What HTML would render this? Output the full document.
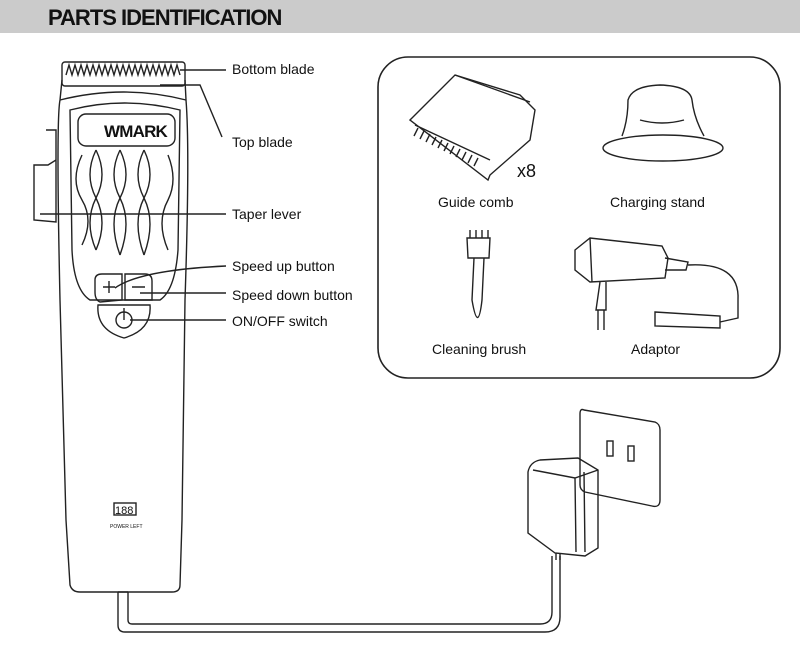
<!DOCTYPE html>
<html><head><style>
body{margin:0;background:#fff;width:800px;height:651px;overflow:hidden}
svg{display:block}
text{font-family:"Liberation Sans",sans-serif;fill:#111}
</style></head><body>
<svg width="800" height="651" viewBox="0 0 800 651" xmlns="http://www.w3.org/2000/svg">
<rect x="0" y="0" width="800" height="33" fill="#cbcbcb"/>
<text x="48" y="25" font-size="22" font-weight="bold" letter-spacing="-1" fill="#111">PARTS IDENTIFICATION</text>

<g fill="none" stroke="#222" stroke-width="1.4">
<rect x="62" y="62" width="123" height="24" rx="3"/>
<path d="M66 75 l3 -10 l3 10 l3 -10 l3 10 l3 -10 l3 10 l3 -10 l3 10 l3 -10 l3 10 l3 -10 l3 10 l3 -10 l3 10 l3 -10 l3 10 l3 -10 l3 10 l3 -10 l3 10 l3 -10 l3 10 l3 -10 l3 10 l3 -10 l3 10 l3 -10 l3 10 l3 -10 l3 10 l3 -10 l3 10 l3 -10 l3 10 l3 -10 l3 10 l3 -10 l3 10"/>
<path d="M62 80 L60 100 Q56 120 60 300 L66 520 L70 585 Q72 592 80 592 L172 592 Q180 592 180 585 L182 520 L185 300 Q190 150 186 100 L185 80"/>
<path d="M60 100 Q124 84 186 100"/>
<path d="M70 110 Q124 96 180 110 L178 250 Q175 290 160 300 L90 300 Q74 290 72 250 Z"/>
<rect x="78" y="114" width="97" height="32" rx="8"/>
<path d="M82 155 Q70 180 82 200 Q94 220 82 245 M96 150 Q84 175 96 198 Q108 222 96 250 M96 150 Q108 175 96 198 Q84 222 96 250 M120 150 Q108 175 120 198 Q132 222 120 255 M120 150 Q132 175 120 198 Q108 222 120 255 M144 150 Q132 175 144 198 Q156 222 144 255 M144 150 Q156 175 144 198 Q132 222 144 255 M168 155 Q178 180 168 200 Q156 222 168 250"/>
<path d="M95 280 Q95 274 102 274 L122 274 L122 300 L100 302 Q95 300 95 292 Z"/>
<path d="M125 274 L145 274 Q152 274 152 281 L152 300 L125 300 Z"/>
<path d="M98 305 L150 305 Q152 330 124 338 Q96 330 98 305 Z"/>
<circle cx="124" cy="320" r="8"/>
<path d="M124 308 V320"/>
<path d="M103 287 h12 M109 281 v12 M132 287 h13"/>
<path d="M46 130 L56 130 L56 160 L48 165 L34 165 L34 220 L56 222 L56 160"/>
<rect x="114" y="503" width="22" height="12"/>
<path d="M118 592 L118 625 Q118 632 125 632 L545 632 Q560 632 560 617 L560 556"/>
<path d="M128 592 L128 620 Q128 624 132 624 L540 624 Q552 624 552 612 L552 556"/>
<path d="M118 592 H128"/>
<path d="M180 70 H226 M160 85 H200 L222 137 M40 214 H226 M115 288 Q140 270 226 266 M140 293 H226 M130 320 H226"/>
<rect x="378" y="57" width="402" height="321" rx="30" stroke-width="1.6"/>
<path d="M410 120 L455 75 L520 95 L535 110 L530 140 L490 175 L488 180 Z"/>
<path d="M415 125 L490 160 M455 75 L530 102"/>
<path d="M418 128 l-4 8 M424 131 l-4 8 M430 134 l-4 8 M436 137 l-4 8 M442 140 l-4 8 M448 143 l-4 8 M454 146 l-4 8 M460 149 l-4 8 M466 152 l-4 8 M472 155 l-4 8 M478 158 l-4 8"/>
<!-- stand -->
<ellipse cx="663" cy="148" rx="60" ry="13"/>
<path d="M622 136 Q628 120 628 100 Q632 86 660 85 Q690 86 692 100 Q694 118 704 136"/>
<path d="M640 120 Q662 126 684 120"/>
<path d="M467 238 L490 238 L489 258 L468 258 Z M474 258 L472 300 Q478 335 482 300 L484 258"/>
<path d="M470 238 V230 M476 238 V230 M482 238 V230 M488 238 V230"/>
<path d="M575 250 L590 238 L662 246 L668 258 L665 278 L590 282 L575 270 Z"/>
<path d="M590 238 L592 282 M665 258 L688 262 L686 270 L665 270"/>
<path d="M688 265 Q740 262 738 300 L738 318 L720 322"/>
<path d="M600 282 L596 310 L606 310 L606 282 M598 310 V330 M604 310 V330"/>
<path d="M655 312 L720 316 L720 328 L655 326 Z"/>
<path d="M584 410 L655 422 Q660 424 660 430 L660 500 Q660 508 652 506 L585 492 Q580 490 580 485 L580 414 Q580 408 584 410 Z"/>
<rect x="607" y="441" width="6" height="15"/>
<rect x="628" y="446" width="6" height="15"/>
<path d="M540 460 L578 458 L598 470 L598 548 L585 556 L555 553 L528 533 L528 472 Q530 462 540 460 Z"/>
<path d="M533 470 L575 478 L598 470 M575 478 L576 552 M584 472 L585 552"/>
<path d="M556 553 V560 M560 553 V560"/>
</g>
<text x="104" y="137" font-size="17" font-weight="bold" letter-spacing="-0.8" fill="#111">WMARK</text>
<text x="115" y="514" font-size="11" font-family="Liberation Mono">188</text>
<text x="110" y="528" font-size="5">POWER LEFT</text>
<g font-size="14">
<text x="232" y="74">Bottom blade</text>
<text x="232" y="147">Top blade</text>
<text x="232" y="219">Taper lever</text>
<text x="232" y="271">Speed up button</text>
<text x="232" y="300">Speed down button</text>
<text x="232" y="326">ON/OFF switch</text>
<text x="438" y="207">Guide comb</text>
<text x="610" y="207">Charging stand</text>
<text x="432" y="354">Cleaning brush</text>
<text x="631" y="354">Adaptor</text>
<text x="517" y="177" font-size="18">x8</text>
</g>
</svg>
</body></html>
